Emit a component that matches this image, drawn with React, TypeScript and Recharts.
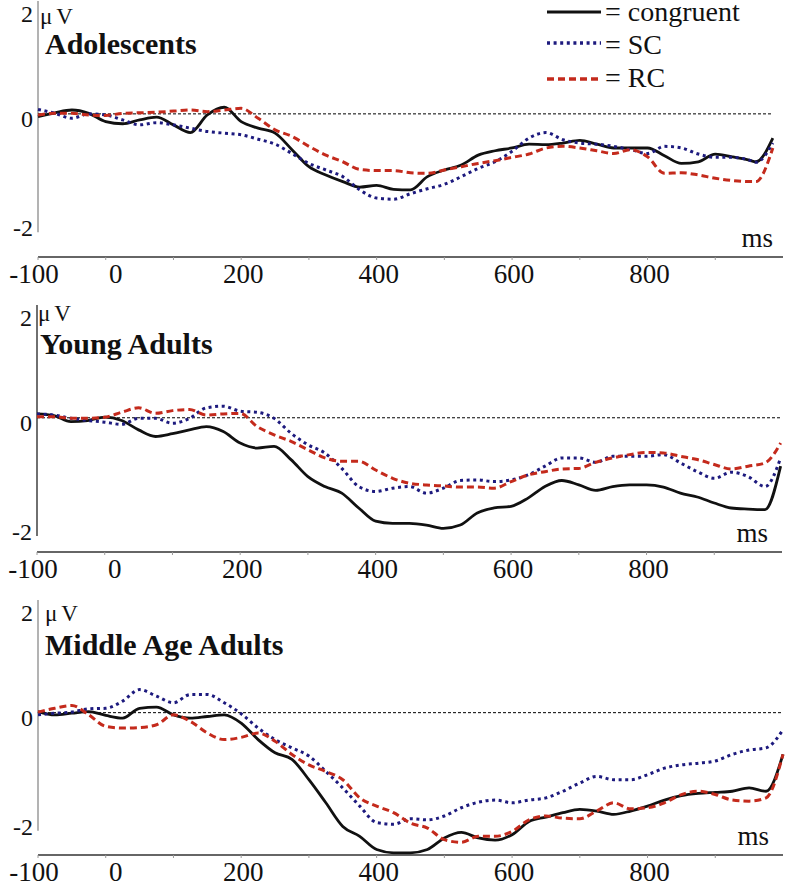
import React from "react";
import { LineChart, Line, XAxis, YAxis, ReferenceLine } from "recharts";

// sampling times (ms); each panel appends its own last two samples
const times = [
  -100, -75, -50, -25, 0, 25, 50, 75, 100, 125, 150, 175, 200, 225, 250, 275,
  300, 325, 350, 375, 400, 425, 450, 475, 500, 525, 550, 575, 600, 625, 650,
  675, 700, 725, 750, 775, 800, 825, 850, 875, 900, 925, 950,
];
const adolescentsTail = [960, 985];
const youngTail = [975, 998];
const middleTail = [975, 1000];

const xTicks = [-100, 0, 100, 200, 300, 400, 500, 600, 700, 800, 900];
const xLabels = [-100, 0, 200, 400, 600, 800];
const yTicks = [2, 0, -2];

// Adolescents (µV)
const adolescentsCongruent = [
  -0.05, 0.02, 0.07, 0.01, -0.14, -0.18, -0.11, -0.06, -0.2, -0.34, -0.02,
  0.12, -0.14, -0.26, -0.35, -0.65, -0.96, -1.11, -1.23, -1.33, -1.3, -1.37,
  -1.38, -1.14, -1.02, -0.93, -0.75, -0.67, -0.62, -0.55, -0.56, -0.53, -0.48,
  -0.55, -0.62, -0.62, -0.62, -0.76, -0.9, -0.87, -0.73, -0.78, -0.84, -0.87,
  -0.44,
];
const adolescentsSC = [
  0.08, 0.01, -0.08, 0, -0.02, -0.11, -0.2, -0.16, -0.2, -0.26, -0.32, -0.35,
  -0.38, -0.46, -0.55, -0.72, -0.9, -1.02, -1.14, -1.38, -1.53, -1.55, -1.45,
  -1.36, -1.28, -1.14, -0.99, -0.87, -0.68, -0.44, -0.34, -0.47, -0.53, -0.55,
  -0.59, -0.65, -0.72, -0.59, -0.62, -0.73, -0.79, -0.79, -0.84, -0.88, -0.53,
];
const adolescentsRC = [
  -0.02, 0.01, 0.01, -0.02, -0.03, 0.01, 0.02, 0.03, 0.05, 0.07, 0.04, 0.07,
  0.1, -0.08, -0.29, -0.41, -0.59, -0.75, -0.87, -1.01, -1.03, -1.03, -1.07,
  -1.08, -1.02, -0.96, -0.9, -0.85, -0.79, -0.73, -0.62, -0.59, -0.62, -0.67,
  -0.72, -0.65, -0.78, -1.08, -1.07, -1.11, -1.17, -1.21, -1.23, -1.23, -0.62,
];

// Young Adults (µV)
const youngCongruent = [
  0.07, 0.04, -0.07, -0.05, 0.01, -0.05, -0.22, -0.34, -0.29, -0.22, -0.16,
  -0.25, -0.46, -0.55, -0.52, -0.76, -1.07, -1.25, -1.37, -1.64, -1.88, -1.92,
  -1.92, -1.95, -2.01, -1.95, -1.73, -1.64, -1.61, -1.46, -1.25, -1.14, -1.22,
  -1.32, -1.25, -1.22, -1.22, -1.26, -1.37, -1.44, -1.55, -1.64, -1.66, -1.67,
  -0.88,
];
const youngSC = [
  0.07, 0.05, -0.01, -0.05, -0.08, -0.12, -0.01, -0.01, -0.1, -0.01, 0.18,
  0.21, 0.12, 0.1, -0.01, -0.28, -0.49, -0.64, -0.92, -1.25, -1.34, -1.28,
  -1.25, -1.37, -1.28, -1.14, -1.13, -1.16, -1.13, -1.04, -0.88, -0.73, -0.73,
  -0.81, -0.7, -0.7, -0.7, -0.67, -0.82, -0.98, -1.1, -0.99, -1.07, -1.25,
  -0.73,
];
const youngRC = [
  0.02, 0.02, -0.01, -0.01, 0.01, 0.1, 0.18, 0.08, 0.13, 0.15, 0.05, 0.07,
  0.08, -0.16, -0.31, -0.43, -0.58, -0.73, -0.79, -0.79, -0.95, -1.1, -1.19,
  -1.22, -1.24, -1.26, -1.26, -1.28, -1.16, -1.04, -0.98, -0.93, -0.92, -0.81,
  -0.73, -0.67, -0.63, -0.64, -0.7, -0.76, -0.85, -0.93, -0.88, -0.82, -0.46,
];

// Middle Age Adults (µV)
const middleCongruent = [
  0.02, -0.04, -0.01, 0.02, -0.05, -0.1, 0.08, 0.1, -0.04, -0.1, -0.07, -0.04,
  -0.19, -0.49, -0.73, -0.85, -1.22, -1.64, -2.07, -2.25, -2.49, -2.55, -2.55,
  -2.49, -2.28, -2.18, -2.28, -2.32, -2.22, -1.98, -1.9, -1.82, -1.76, -1.79,
  -1.85, -1.79, -1.7, -1.59, -1.51, -1.47, -1.45, -1.43, -1.37, -1.43, -0.76,
];
const middleSC = [
  -0.04, -0.01, 0.01, 0.07, 0.08, 0.21, 0.42, 0.3, 0.18, 0.33, 0.33, 0.18,
  -0.02, -0.28, -0.49, -0.64, -0.79, -1.07, -1.37, -1.7, -2.0, -2.03, -1.93,
  -1.95, -1.88, -1.73, -1.63, -1.59, -1.64, -1.59, -1.55, -1.43, -1.28, -1.16,
  -1.22, -1.22, -1.13, -1.01, -0.95, -0.92, -0.88, -0.76, -0.68, -0.64, -0.31,
];
const middleRC = [
  0.01, 0.08, 0.13, -0.04, -0.25, -0.28, -0.27, -0.22, -0.04, -0.16, -0.37,
  -0.49, -0.45, -0.37, -0.52, -0.76, -0.95, -1.07, -1.22, -1.55, -1.7, -1.82,
  -2.01, -2.1, -2.31, -2.36, -2.25, -2.25, -2.16, -1.95, -1.88, -1.92, -1.93,
  -1.79, -1.64, -1.75, -1.73, -1.64, -1.49, -1.43, -1.49, -1.59, -1.61, -1.55,
  -0.76,
];

const FONT = "'Liberation Serif', 'Times New Roman', serif";

const series = [
  { key: "congruent", name: "congruent", color: "#111111", width: 2.8, dash: undefined },
  { key: "sc", name: "SC", color: "#1d1a7e", width: 3, dash: "3 3.6" },
  { key: "rc", name: "RC", color: "#c42a1c", width: 3, dash: "7 4" },
];

const build = (tail: number[], c: number[], s: number[], r: number[]) =>
  times.concat(tail).map((t, i) => ({ t, congruent: c[i], sc: s[i], rc: r[i] }));

const panels = [
  {
    title: "Adolescents",
    data: build(adolescentsTail, adolescentsCongruent, adolescentsSC, adolescentsRC),
    end: adolescentsTail[1],
    top: 1,
    plotHeight: 256,
    yMin: -2.6,
    left: 38,
    axisColor: "#8a8a8a",
    uv: { x: 40, y: 24 },
    titlePos: { x: 45, y: 54 },
    ms: { x: 773, y: 247 },
  },
  {
    title: "Young Adults",
    data: build(youngTail, youngCongruent, youngSC, youngRC),
    end: youngTail[1],
    top: 305,
    plotHeight: 247,
    yMin: -2.44,
    left: 37,
    axisColor: "#222222",
    uv: { x: 38, y: 321 },
    titlePos: { x: 40, y: 354 },
    ms: { x: 768, y: 542 },
  },
  {
    title: "Middle Age Adults",
    data: build(middleTail, middleCongruent, middleSC, middleRC),
    end: middleTail[1],
    top: 600,
    plotHeight: 255,
    yMin: -2.59,
    left: 38,
    axisColor: "#8a8a8a",
    uv: { x: 45, y: 621 },
    titlePos: { x: 45, y: 655 },
    ms: { x: 769, y: 845 },
  },
];

const Y_MAX = 2.05;
const TOP_PAD = 20;
const X_AXIS_H = 40;

const XTick = (props: any) => {
  const { x, y, payload } = props;
  const v = payload.value;
  if (!xLabels.includes(v)) return <g />;
  const dx = v === -100 ? -4 : v === 0 ? 10 : 2;
  return (
    <text x={x + dx} y={y} dy={21} textAnchor="middle" fontFamily={FONT} fontSize={27} fill="#111">
      {v}
    </text>
  );
};

const YTick = (props: any) => {
  const { x, y, payload } = props;
  const v = payload.value;
  const dy = v === 2 ? 18 : v === 0 ? 13 : 12;
  return (
    <text x={x - 5} y={y} dy={dy} textAnchor="end" fontFamily={FONT} fontSize={24} fill="#111">
      {v}
    </text>
  );
};

const Panel = ({ p }: { p: (typeof panels)[number] }) => (
  <div style={{ position: "absolute", left: 0, top: p.top - TOP_PAD }}>
    <LineChart
      width={791}
      height={TOP_PAD + p.plotHeight + X_AXIS_H}
      data={p.data}
      margin={{ top: TOP_PAD, right: 791 - p.left - 745, bottom: 0, left: 0 }}
    >
      <XAxis
        type="number"
        dataKey="t"
        domain={[-100, 1000]}
        ticks={xTicks}
        interval={0}
        tick={<XTick />}
        tickSize={3}
        tickLine={{ stroke: "#999" }}
        axisLine={{ stroke: "#333", strokeWidth: 1.5 }}
        height={X_AXIS_H}
      />
      <YAxis
        type="number"
        domain={[p.yMin, Y_MAX]}
        ticks={yTicks}
        interval={0}
        width={p.left}
        tick={<YTick />}
        tickSize={0}
        tickMargin={0}
        axisLine={false}
        tickLine={false}
        allowDataOverflow
      />
      <ReferenceLine
        segment={[
          { x: -100, y: 2.05 },
          { x: -100, y: -2.15 },
        ]}
        stroke={p.axisColor}
        strokeWidth={1.3}
      />
      <ReferenceLine
        segment={[
          { x: -100, y: 0 },
          { x: p.end, y: 0 },
        ]}
        stroke="#000"
        strokeWidth={1}
        strokeDasharray="3 2"
      />
      {series.map((s) => (
        <Line
          key={s.key}
          type="monotone"
          dataKey={s.key}
          stroke={s.color}
          strokeWidth={s.width}
          strokeDasharray={s.dash}
          dot={false}
          isAnimationActive={false}
        />
      ))}
    </LineChart>
  </div>
);

const legendRows = [
  { y: 12, baseline: 21 },
  { y: 43, baseline: 54 },
  { y: 79, baseline: 87 },
];

export default function App() {
  return (
    <div
      style={{
        position: "absolute",
        left: 0,
        top: 0,
        width: 791,
        height: 886,
        overflow: "hidden",
        background: "#fff",
      }}
    >
      {panels.map((p) => (
        <Panel key={p.title} p={p} />
      ))}
      <svg
        width={791}
        height={886}
        style={{ position: "absolute", left: 0, top: 0, pointerEvents: "none" }}
        fontFamily={FONT}
      >
        {panels.map((p) => (
          <g key={p.title}>
            <text x={p.uv.x} y={p.uv.y} fontSize={23} letterSpacing={4} fill="#111">
              μV
            </text>
            <text x={p.titlePos.x} y={p.titlePos.y} fontSize={30} fontWeight="bold" fill="#111">
              {p.title}
            </text>
            <text x={p.ms.x} y={p.ms.y} fontSize={27} textAnchor="end" fill="#111">
              ms
            </text>
          </g>
        ))}
        {series.map((s, i) => (
          <g key={s.key}>
            <line
              x1={547}
              x2={601}
              y1={legendRows[i].y}
              y2={legendRows[i].y}
              stroke={s.color}
              strokeWidth={s.width + 0.4}
              strokeDasharray={s.dash}
            />
            <text x={605} y={legendRows[i].baseline} fontSize={28} fill="#111">
              {"= " + s.name}
            </text>
          </g>
        ))}
      </svg>
    </div>
  );
}
